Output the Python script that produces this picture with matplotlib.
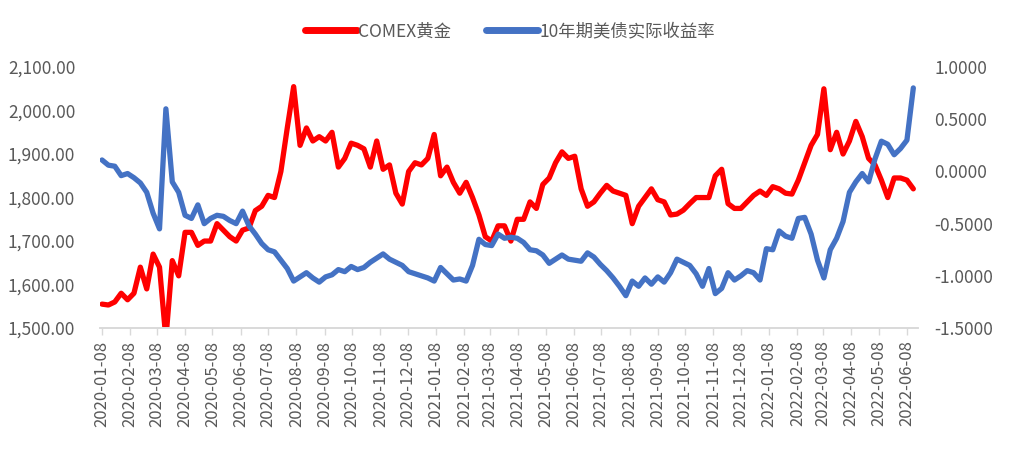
import matplotlib
matplotlib.use("Agg")
import matplotlib.pyplot as plt
import matplotlib.dates as mdates
import matplotlib.ticker as mticker
import pandas as pd
import numpy as np

plt.rcParams['font.family'] = ['Noto Sans CJK SC', 'DejaVu Sans']

start_date = "2020-01-08"
gold_label = "COMEX黄金"
yield_label = "10年期美债实际收益率"

gold = [1555, 1553, 1560, 1580, 1565, 1580, 1640, 1590, 1670, 1640,
        1475, 1655, 1620, 1720, 1720, 1690, 1700, 1700, 1740, 1725,
        1710, 1700, 1725, 1730, 1770, 1780, 1805, 1800, 1860, 1960,
        2055, 1920, 1960, 1930, 1940, 1930, 1950, 1870, 1890, 1925,
        1920, 1912, 1870, 1930, 1865, 1875, 1810, 1785, 1860, 1880,
        1875, 1890, 1945, 1850, 1870, 1835, 1810, 1835, 1800, 1760,
        1710, 1700, 1735, 1735, 1700, 1750, 1750, 1790, 1775, 1830,
        1845, 1880, 1905, 1890, 1895, 1820, 1780, 1790, 1810, 1828,
        1815, 1810, 1805, 1740, 1780, 1800, 1820, 1795, 1790, 1760,
        1762, 1771, 1786, 1800, 1800, 1800, 1850, 1865, 1786, 1775,
        1775, 1790, 1805, 1815, 1805, 1825, 1820, 1810, 1808, 1840,
        1880, 1920, 1945, 2050, 1910, 1950, 1900, 1930, 1975, 1940,
        1890, 1875, 1840, 1800, 1845, 1845, 1840, 1820]

real_yield = [0.11, 0.06, 0.05, -0.04, -0.02, -0.06, -0.11, -0.20, -0.40, -0.55,
              0.60, -0.10, -0.20, -0.42, -0.45, -0.32, -0.50, -0.45, -0.42, -0.43,
              -0.47, -0.50, -0.38, -0.52, -0.60, -0.69, -0.75, -0.77, -0.85, -0.93,
              -1.05, -1.01, -0.97, -1.02, -1.06, -1.01, -0.99, -0.94, -0.96, -0.91,
              -0.94, -0.92, -0.87, -0.83, -0.79, -0.84, -0.87, -0.90, -0.96, -0.98,
              -1.00, -1.02, -1.05, -0.92, -0.98, -1.04, -1.03, -1.05, -0.90, -0.65,
              -0.70, -0.71, -0.60, -0.64, -0.63, -0.64, -0.68, -0.75, -0.76, -0.80,
              -0.88, -0.84, -0.80, -0.84, -0.85, -0.86, -0.78, -0.82, -0.89, -0.95,
              -1.02, -1.10, -1.19, -1.05, -1.10, -1.02, -1.08, -1.01, -1.06, -0.97,
              -0.84, -0.87, -0.90, -0.98, -1.10, -0.93, -1.17, -1.12, -0.97, -1.04,
              -1.00, -0.95, -0.97, -1.04, -0.74, -0.75, -0.57, -0.62, -0.64, -0.45,
              -0.44, -0.60, -0.85, -1.02, -0.75, -0.64, -0.48, -0.20, -0.10, -0.02,
              -0.10, 0.12, 0.29, 0.26, 0.16, 0.22, 0.30, 0.80]

dates = pd.date_range(start_date, periods=len(gold), freq="7D")
tick_dates = pd.date_range("2020-01-01", "2022-06-30", freq="MS") + pd.Timedelta(days=7)

text_color = "#595959"
red = "#FF0000"
blue = "#4472C4"

fig = plt.figure(figsize=(10.12, 4.5), dpi=100)
ax = fig.add_axes([0.099, 0.271, 0.808, 0.580])
ax2 = ax.twinx()

l1, = ax.plot(dates, gold, color=red, lw=3.8, solid_joinstyle="round", solid_capstyle="round", label=gold_label)
l2, = ax2.plot(dates, real_yield, color=blue, lw=3.8, solid_joinstyle="round", solid_capstyle="round", label=yield_label)

ax.set_ylim(1500, 2100)
ax.yaxis.set_major_locator(mticker.MultipleLocator(100))
ax.yaxis.set_major_formatter(mticker.FuncFormatter(lambda v, p: f"{v:,.2f}"))
ax2.set_ylim(-1.5, 1.0)
ax2.yaxis.set_major_locator(mticker.MultipleLocator(0.5))
ax2.yaxis.set_major_formatter(mticker.FuncFormatter(lambda v, p: f"{v:.4f}"))

ax.set_xlim(pd.Timestamp("2020-01-06"), pd.Timestamp("2022-06-20"))
ax.set_xticks(tick_dates)
ax.xaxis.set_major_formatter(mdates.DateFormatter("%Y-%m-%d"))

for a in (ax, ax2):
    for s in ("top", "left", "right"):
        a.spines[s].set_visible(False)
    a.spines["bottom"].set_color("#D9D9D9")
    a.spines["bottom"].set_linewidth(1.2)

ax.tick_params(axis="x", colors="#D9D9D9", labelcolor=text_color, length=5, width=1,
               labelsize=12, labelrotation=90, pad=4)
ax.tick_params(axis="y", length=0, labelsize=12.5, labelcolor=text_color, pad=18)
ax2.tick_params(axis="y", length=0, labelsize=12.5, labelcolor=text_color, pad=12)
for lab in ax.get_yticklabels() + ax2.get_yticklabels() + ax.get_xticklabels():
    lab.set_fontweight("light")

leg = fig.legend(handles=[l1, l2], loc="upper center", bbox_to_anchor=(0.504, 0.985), ncol=2,
                 frameon=False, fontsize=12.5, handlelength=3.0, handletextpad=0.1,
                 columnspacing=2.0)
for t in leg.get_texts():
    t.set_color(text_color)
    t.set_fontweight("light")
for h in leg.get_lines():
    h.set_linewidth(5)

fig.savefig("out.png", dpi=100)
